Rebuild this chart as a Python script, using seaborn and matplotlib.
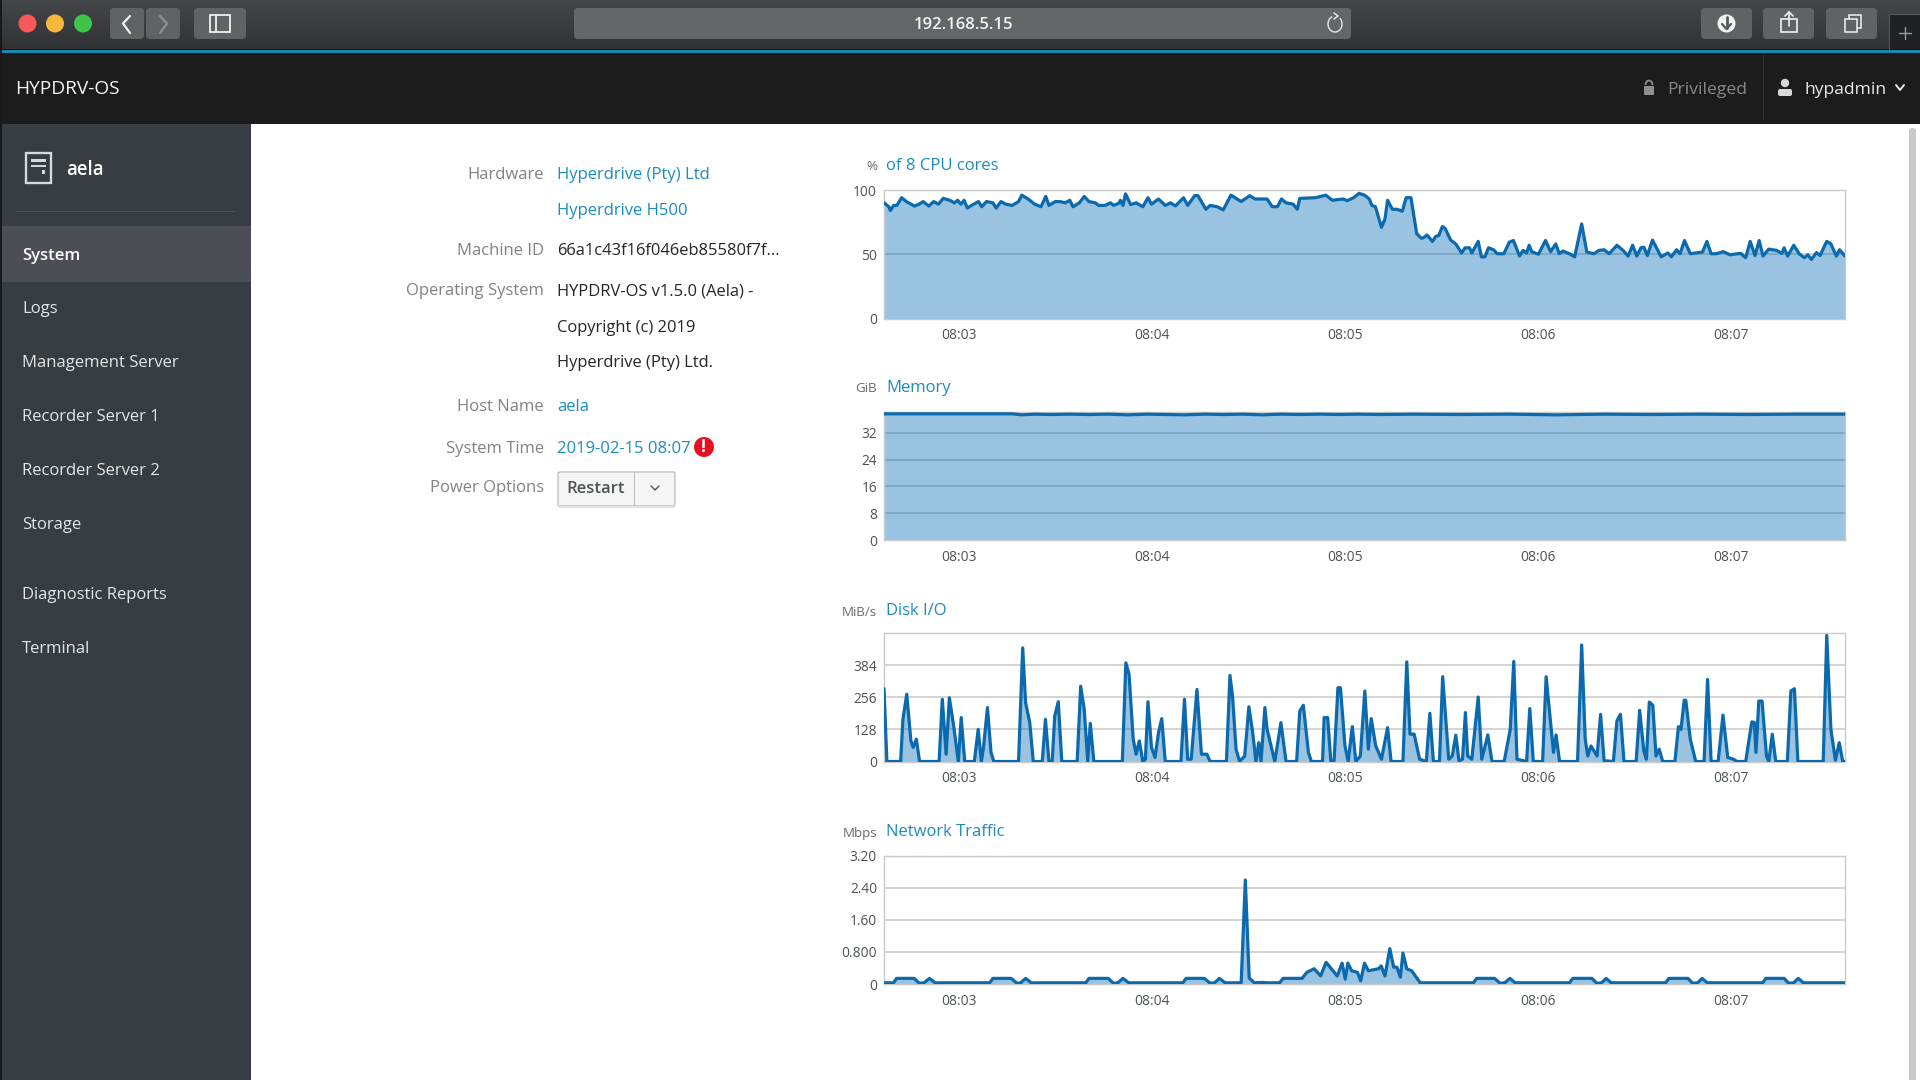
import numpy as np
import matplotlib
matplotlib.use("Agg")
import matplotlib.pyplot as plt
from matplotlib.patches import Rectangle, FancyBboxPatch, Circle, Arc
import seaborn as sns

sns.set_theme(style="white")
plt.rcParams['font.family'] = ['Open Sans', 'DejaVu Sans']

# ---------- data (seconds since the left edge of each chart, value) ----------
minute_ticks = [23.5, 83.7, 143.9, 204.1, 264.3]
minute_labels = ["08:03", "08:04", "08:05", "08:06", "08:07"]

cpu_t = [0,1.5,2,3,4,5.5,7,9.5,11,12.2,14,15.5,17,18.5,20.5,22,23,24,25,26,28,29.5,30.5,32,34,35,36.5,38,40,42,43,45,47,49,50.5,51.5,53.5,55,56.5,58,59,61,62.5,64,66,67,
         69,70.7,71.7,73.3,73.8,74.6,75.4,77,78.7,80.8,82.4,83.5,85.7,87.8,89.4,91,93.5,94.8,97,98,100.5,101.8,104,105.9,108.3,111.5,114.2,115.8,119.6,121.2,122.8,124.1,125.5,127.7,129,129.8,134.7,137.9,140,143.3,144.6,146.6,
         148.3,150,151.5,152.3,153.4,155.3,156.4,157.2,158.7,160.1,161.8,163,164.5,166.3,167.7,168.4,169.5,171.2,172.3,173.2,174.3,175.2,176.9,178.5,180.3,181.4,182.8,183.5,185.5,186.5,187.6,188.7,190.3,191.4,193.5,195.2,196.5,198.4,199.5,200.6,201.4,202.2,204.3,206.5,208.1,209.7,210.8,211.9,214,215.6,217.8,219.4,221.6,223.2,224.8,226.4,228.8,230.7,232.3,233.7,235,236.3,237.2,238.3,239.9,242.6,244.7,245.8,247.4,248.5,249.9,251.7,255.5,256.9,258.2,259.8,262,264.1,267.4,269,270.4,271.9,273.2,274.4,276.2,278.7,280.3,281,282.1,284,285.7,287.3,288.4,289.5,291.1,292.2,294.3,295.6,297.3,298.3,300]
cpu_v = [90,87,84,88,88,94,91,87.5,89,91,87.5,91,89,93.5,92,90,92,89,92,86,89,91,87,91,90,86,91,89,88,91,96,93,89,87,95,88,91,91,90,92,87,90,95,91,90,88,
         88,90,88,89.7,92,88,97,88.6,90,87,94,89,93,88,90,87.6,94,88,95.6,95.6,85,88,87,84.5,96,91,95.6,93,93,87,87,93,90,89,85,93.5,94,96,92,93,91.7,94,
         97.4,96,93,88,87,71,77.5,92,85,85,83.5,94,94,66,62.5,62.8,65,60,64,64.6,71.6,70,61,58,51,55,55,51,60,48,48,55,53.5,50.4,50.4,59.4,60.7,48.6,53,51,57,52,50,60.7,52,58,50.4,52.5,50.4,48,73.6,51.7,50.4,53,53.5,50.4,57,53,48.6,57,48.6,55,55.5,49,61,48,51,48,53.5,50.4,60.7,50.4,51.7,60,50.4,50.4,52,49.6,50.7,47.3,60,49,60.7,48.6,54,53,50.7,55,48.6,57,50.4,47.3,49.6,46,51.3,49,60,58,48.6,53.5,48.6]

mem_t = [0,40,43,47,52,58,64,70,76,82,88,94,100,106,112,118,124,130,136,142,148,155,165,180,195,210,225,240,255,270,285,300]
mem_v = [37.7,37.7,37.4,37.6,37.5,37.6,37.5,37.6,37.4,37.6,37.5,37.4,37.6,37.5,37.6,37.4,37.6,37.5,37.6,37.5,37.6,37.5,37.6,37.5,37.6,37.4,37.6,37.5,37.6,37.5,37.6,37.6]

disk_t = [0,0.9,5.2,5.9,7.1,8.4,9.1,10.1,11.1,17.2,18.2,19.4,20.4,21.6,23.2,24.1,25.2,28.2,29.4,30.4,31,32.3,33.4,34.3,42,43.3,44.2,45.5,46.6,49.4,50.4,51.5,52.5,53.3,54.4,55.5,60.3,61.4,62.5,63.6,64.4,65.5,74.4,75.5,76.5,77.8,78.7,79.7,80.8,81.6,82.4,83.5,84.6,85.7,86.7,87.8,92.7,93.8,94.8,95.9,97.7,99.1,100.8,101.8,106.9,108,108.8,109.9,111,112.6,113.9,115.1,116.1,117,117.7,118.9,119.6,122,123.9,125.5,128.8,129.8,130.9,132.5,133.4,136.9,137.4,138.5,139.5,140.5,141.7,142.5,143.9,144.9,146.2,147.3,148.7,150.1,151.2,152.1,153.5,155.3,157.2,158.3,162,163.2,164.2,165.5,167.2,169.3,170.4,171.5,173.4,174.4,176.3,177.4,178.5,179.5,180.6,181.5,182.2,183.5,185.5,186.6,188.5,189.8,193.6,195.5,196.6,197.6,200.6,201.6,202.7,205.6,206.7,209,209.8,210.9,216.5,217.8,218.9,219.7,220.7,222.6,223.7,224.8,227.7,228.8,229.9,231,234.8,235.9,237.2,238,238.9,240,241,242,243.1,246.9,248,248.8,249.8,250.3,251.7,253.4,256,257.1,258.2,260.4,261.9,263.4,265.2,266.3,269,270.9,271.7,272.2,273.1,274.1,275.5,276.2,277.3,278.4,282,283.1,284.2,285.3,293.2,294.3,295.6,297,298.2,299.3,300]
disk_v = [290,0,0,168,268,82,56,89,0,0,248,29,254,155,0,175,0,0,128,0,49,215,36,0,0,453,234,155,0,0,168,0,0,181,238,0,0,300,208,0,152,0,0,393,347,89,29,82,0,9,238,56,16,115,171,0,0,248,9,9,287,29,29,0,0,343,261,49,0,22,218,115,0,75,0,215,128,0,155,0,0,201,224,36,0,0,175,175,0,3,294,294,62,0,139,0,22,281,49,171,62,9,135,0,0,397,109,109,9,0,192,0,0,338,9,22,105,3,9,195,22,9,257,9,106,0,0,128,399,9,0,211,0,0,338,36,106,0,0,464,89,22,62,22,188,3,0,162,188,0,0,204,42,9,237,224,22,49,0,0,139,128,244,244,89,0,0,327,0,0,185,16,9,0,0,158,155,36,241,241,22,0,109,0,0,281,290,0,0,502,128,5,75,0,0]

net_t = [0,3,3.9,9.4,11,12.5,14.2,16,33,34,39.7,41.5,42.7,44.2,46,63,64,70,71.6,73,74.6,76.4,93.3,94.3,100,101.8,103.2,104.7,106.5,111.5,112.8,114,115.6,118,120,123.5,124.6,130.5,132,134.3,136.3,138,141.5,143,144,144.8,146,147.8,148.8,150,151.2,154.4,155.2,156.4,157.9,159.1,160.1,161.2,162,163.2,164.7,167.4,184,185,190.6,192.3,193.8,195.4,197,214,215,221,222.5,224,225.4,227,244,245,251,252.4,254,255.4,257,274.3,275.3,281,282.4,284,285.4,287,300]
net_v = [0.03,0.03,0.14,0.14,0.02,0.03,0.14,0.03,0.03,0.14,0.14,0.02,0.03,0.14,0.03,0.03,0.14,0.14,0.02,0.03,0.14,0.03,0.03,0.14,0.14,0.02,0.03,0.14,0.03,0.03,2.59,0.15,0.03,0.04,0.03,0.03,0.14,0.14,0.29,0.38,0.2,0.54,0.2,0.52,0.12,0.52,0.33,0.29,0.08,0.52,0.33,0.38,0.45,0.2,0.88,0.42,0.42,0.17,0.77,0.38,0.33,0.03,0.03,0.14,0.14,0.02,0.03,0.14,0.03,0.03,0.14,0.14,0.02,0.03,0.14,0.03,0.03,0.14,0.14,0.02,0.03,0.14,0.03,0.03,0.14,0.14,0.02,0.03,0.14,0.03,0.03]

chart_titles = ["of 8 CPU cores", "Memory", "Disk I/O", "Network Traffic"]
chart_units = ["%", "GiB", "MiB/s", "Mbps"]
y_ticks = [[0, 50, 100], [0, 8, 16, 24, 32], [0, 128, 256, 384], [0, 0.8, 1.6, 2.4, 3.2]]
y_tick_labels = [["0", "50", "100"], ["0", "8", "16", "24", "32"], ["0", "128", "256", "384"], ["0", "0.800", "1.60", "2.40", "3.20"]]
y_limits = [100, 38.4, 512, 3.2]
series = [(cpu_t, cpu_v), (mem_t, mem_v), (disk_t, disk_v), (net_t, net_v)]

sidebar_items = ["Logs", "Management Server", "Recorder Server 1", "Recorder Server 2", "Storage", "Diagnostic Reports", "Terminal"]
sidebar_rows = [307, 361, 415, 469, 523, 593, 647]
info_labels = [("Hardware", 173), ("Machine ID", 249), ("Operating System", 289), ("Host Name", 405), ("System Time", 447), ("Power Options", 486)]
info_links = [("Hyperdrive (Pty) Ltd", 173), ("Hyperdrive H500", 209), ("aela", 405), ("2019-02-15 08:07", 447)]
info_plain = [("66a1c43f16f046eb85580f7f...", 249), ("HYPDRV-OS v1.5.0 (Aela) -", 289), ("Copyright (c) 2019", 326), ("Hyperdrive (Pty) Ltd.", 361)]

# ---------- page chrome ----------
W, H = 1920, 1080
fig = plt.figure(figsize=(19.2, 10.8), dpi=100, facecolor="white")
bg = fig.add_axes([0, 0, 1, 1], zorder=0)
bg.set_xlim(0, W); bg.set_ylim(H, 0); bg.axis("off")

def box(x0, y0, x1, y1, color, **kw):
    bg.add_patch(Rectangle((x0, y0), x1 - x0, y1 - y0, facecolor=color, edgecolor="none", **kw))

def rbox(x0, y0, x1, y1, color, r=4, **kw):
    kw.setdefault("edgecolor", "none")
    bg.add_patch(FancyBboxPatch((x0 + r, y0 + r), x1 - x0 - 2 * r, y1 - y0 - 2 * r,
                                boxstyle=f"round,pad={r},rounding_size={r}", facecolor=color, **kw))

def stroke(xs, ys, color="#e8e8e8", lw=1.3):
    bg.plot(xs, ys, color=color, lw=lw, solid_capstyle="round", solid_joinstyle="round")

def text(x, y, s, color="#333333", size=12.0, ha="left", weight="normal", dy=2):
    bg.text(x, y + dy, s, color=color, fontsize=size, ha=ha, va="center", fontweight=weight)

# toolbar gradient
bg.imshow(np.linspace(0, 1, 49).reshape(-1, 1), extent=(0, W, 49, 0), aspect="auto",
          cmap=matplotlib.colors.LinearSegmentedColormap.from_list("t", ["#43474a", "#303336"]), zorder=0)
bg.set_xlim(0, W); bg.set_ylim(H, 0)
box(0, 49, W, 50, "#0c0f10")
box(0, 50, W, 53, "#1c88ab")
box(0, 53, W, 124, "#1c1c1c")
box(0, 124, 251, H, "#383d43")
box(0, 226, 251, 282, "#4b4f55")
box(0, 0, 1.5, H, "#17191b")
box(16, 211, 235, 212, "#4a4f55")
rbox(1909, 128, 1916, H + 20, "#c9c9c9", r=3)

for cx, c in [(27.5, "#f9575a"), (55, "#f6b73b"), (83, "#3fc44b")]:
    bg.add_patch(Circle((cx, 23.5), 9, facecolor=c, edgecolor="none"))

for x0, x1 in [(110, 144), (146, 180), (194, 246), (1701, 1752), (1763, 1814), (1826, 1877)]:
    rbox(x0, 8, x1, 39, "#5f6366")
rbox(574, 8, 1351, 39, "#63676a")
box(1889, 14, W, 49, "#1f2123")
bg.plot([1889, 1889, W], [49, 14, 14], color="#55585b", lw=0.8)
stroke([1899, 1911], [33, 33], "#9a9c9e", 1)
stroke([1905, 1905], [27, 39], "#9a9c9e", 1)

stroke([130, 123, 130], [16, 23.5, 33], "#f0f0f0", 1.6)
stroke([160, 167, 160], [16, 23.5, 33], "#8e9194", 1.6)
bg.add_patch(Rectangle((210, 15), 20, 17, facecolor="none", edgecolor="#f0f0f0", lw=1.3))
stroke([216, 216], [15, 32], "#f0f0f0", 1.3)
text(964, 24, "192.168.5.15", "#f2f2f2", 12, "center", "semibold", dy=1)
bg.add_patch(Arc((1335, 24), 14, 16, theta1=-50, theta2=250, color="#e6e6e6", lw=1.0))
stroke([1334, 1338, 1334], [13, 16, 19], "#e6e6e6", 1.1)

bg.add_patch(Circle((1726.5, 23.5), 9, facecolor="#f2f2f2", edgecolor="none"))
stroke([1726.5, 1726.5], [17, 28], "#55585b", 2)
stroke([1722, 1726.5, 1731], [24, 29, 24], "#55585b", 1.6)
bg.add_patch(Rectangle((1781, 19), 16, 13, facecolor="none", edgecolor="#f0f0f0", lw=1.2))
stroke([1789, 1789], [12, 26], "#f0f0f0", 1.2)
stroke([1785, 1789, 1793], [16, 12, 16], "#f0f0f0", 1.2)
bg.add_patch(Rectangle((1849, 15), 12, 13, facecolor="#5f6366", edgecolor="#f0f0f0", lw=1.1, zorder=2))
bg.add_patch(Rectangle((1845, 19), 12, 13, facecolor="#5f6366", edgecolor="#f0f0f0", lw=1.1, zorder=2))

text(15, 87, "HYPDRV-OS", "#f4f4f4", 13.8)
box(1763, 53, 1764, 121, "#2c2c2c")
rbox(1644, 86, 1654, 95, "#8d8f91", r=1)
bg.add_patch(Arc((1649, 85), 7, 9, theta1=180, theta2=360, color="#8d8f91", lw=1.3))
text(1667, 88, "Privileged", "#86888a", 12.6)
bg.add_patch(Circle((1785, 83), 4.2, facecolor="#d8d8d8", edgecolor="none"))
rbox(1778, 89, 1792, 96, "#d8d8d8", r=2)
text(1804, 88, "hypadmin", "#e8e8e8", 12.6)
stroke([1896, 1900, 1904], [85, 90, 85], "#e8e8e8", 1.4)

bg.add_patch(Rectangle((26, 153), 25, 30, facecolor="none", edgecolor="#d8d8d8", lw=1.7))
box(31, 159, 46, 162, "#d8d8d8"); box(31, 165, 46, 167, "#d8d8d8"); box(42, 170, 45, 174, "#d8d8d8")
text(66, 168, "aela", "#ffffff", 13.4, weight="semibold")
text(22, 253.5, "System", "#ffffff", 12.0, weight="semibold")
for s, y in zip(sidebar_items, sidebar_rows):
    text(22, y, s, "#e4e5e6", 12.0)

for s, y in info_labels:
    text(544, y, s, "#808285", 12.0, "right")
for s, y in info_links:
    text(557, y, s, "#1b8cbd", 12.0)
for s, y in info_plain:
    text(557, y, s, "#252525", 11.9)

bg.add_patch(Circle((704, 447), 10, facecolor="#e80f1f", edgecolor="none"))
bg.text(704, 446.5, "!", color="white", fontsize=12.5, ha="center", va="center", fontweight="bold")
rbox(558, 472, 675, 506, "#f5f5f5", r=1.5, linewidth=0.9)
bg.patches[-1].set_edgecolor("#bbbbbb")
box(634, 472, 635, 506, "#bbbbbb")
box(559, 506, 675, 508, "#e2e2e2")
text(566, 487, "Restart", "#4d5258", 12.0, weight="semibold")
stroke([651, 655, 659], [486, 490, 486], "#4d5258", 1)

# ---------- charts ----------
LEFT, RIGHT, CH = 884, 1845, 128.5
tops = [190, 411.5, 633, 855.5]
head_y = [164, 386, 609, 830]
LINE, GRID = "#0a6aad", "#c9c9c9"

for k, (t, v) in enumerate(series):
    ax = fig.add_axes([LEFT / W, 1 - (tops[k] + CH) / H, (RIGHT - LEFT) / W, CH / H], zorder=2)
    ax.set_facecolor("white")
    ax.set_axisbelow(True)
    for yt in y_ticks[k][1:]:
        ax.axhline(yt, color=GRID, lw=1.1, zorder=1)
    ax.fill_between(t, v, 0, color="#006bb4", alpha=0.40, lw=0, zorder=2)
    sns.lineplot(x=t, y=v, ax=ax, color=LINE, linewidth=2.3, estimator=None, errorbar=None, sort=False, zorder=3)
    ax.set_xlim(0, 300)
    ax.set_ylim(0, y_limits[k])
    ax.set_xticks(minute_ticks, minute_labels)
    ax.set_yticks(y_ticks[k], y_tick_labels[k])
    ax.tick_params(axis="both", length=0, labelsize=9.9, labelcolor="#4d5258")
    ax.tick_params(axis="x", pad=7)
    ax.tick_params(axis="y", pad=5)
    ax.set_xlabel(""); ax.set_ylabel("")
    for s in ax.spines.values():
        s.set_color(GRID); s.set_linewidth(1)
    text(877, head_y[k] + 1, chart_units[k], "#666a6e", 9.6, "right")
    text(886, head_y[k], chart_titles[k], "#1b8cbd", 12.0)

fig.savefig("out.png", dpi=100, facecolor="white")
